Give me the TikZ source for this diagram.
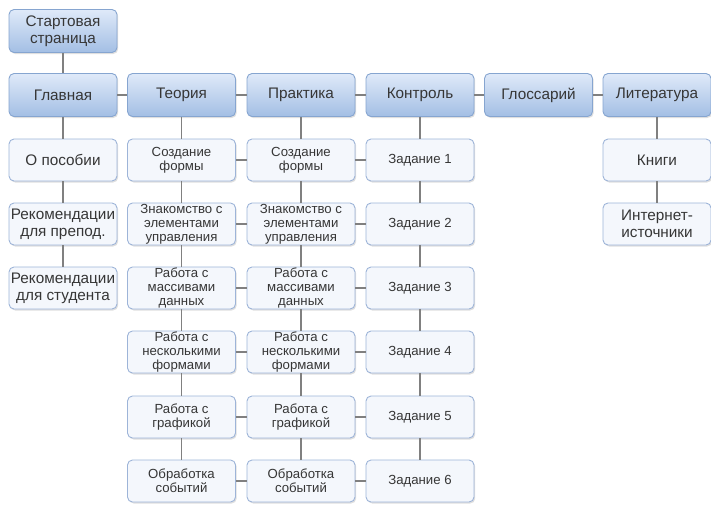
\documentclass[tikz,border=0pt]{standalone}
\usepackage{fontspec}
\setmainfont{Liberation Sans}
\usetikzlibrary{shadows}
\definecolor{txt}{HTML}{363636}
\definecolor{mtop}{HTML}{DFEAF9}
\definecolor{mbot}{HTML}{A3BEE4}
\definecolor{mdraw}{HTML}{86A5D0}
\definecolor{sfill}{HTML}{F4F7FC}
\definecolor{sdraw}{HTML}{9DB4D8}
\definecolor{lnk}{HTML}{808080}
\tikzset{
  basebox/.style={rounded corners=5pt, minimum width=108pt, inner sep=0pt, align=center,
    text=txt, line width=0.9pt,
    drop shadow={opacity=0.25, shadow xshift=1.2pt, shadow yshift=-1.5pt}},
  mainbox/.style={basebox, minimum height=43pt, top color=mtop, bottom color=mbot, draw=mdraw,
    font=\fontsize{15.3}{17}\selectfont},
  subbox/.style={basebox, minimum height=42pt, fill=sfill, draw=sdraw,
    font=\fontsize{13.2}{13.8}\selectfont},
  bigsub/.style={subbox, font=\fontsize{15.3}{17}\selectfont},
  lnkline/.style={draw=lnk, line width=1.3pt}
}
\begin{document}
\begin{tikzpicture}[x=1pt,y=-1pt]
\useasboundingbox (0,0) rectangle (711,504);
\def\ca{63}\def\cb{181.5}\def\cc{301}\def\cd{420}\def\ce{538.5}\def\cf{657}
\def\ra{160}\def\rb{224}\def\rc{288}\def\rd{352}\def\re{417}\def\rf{481}
\node[mainbox] (start) at (\ca,31) {Стартовая\\страница};
\node[mainbox] (glav) at (\ca,95) {Главная};
\node[mainbox] (teor) at (\cb,95) {Теория};
\node[mainbox] (prak) at (\cc,95) {Практика};
\node[mainbox] (kont) at (\cd,95) {Контроль};
\node[mainbox] (glos) at (\ce,95) {Глоссарий};
\node[mainbox] (lit) at (\cf,95) {Литература};
% Главная children
\node[bigsub] (g1) at (\ca,\ra) {О пособии};
\node[bigsub] (g2) at (\ca,\rb) {Рекомендации\\для препод.};
\node[bigsub] (g3) at (\ca,\rc) {Рекомендации\\для студента};
% Теория children
\node[subbox] (t1) at (\cb,\ra) {Создание\\формы};
\node[subbox] (t2) at (\cb,\rb) {Знакомство с\\элементами\\управления};
\node[subbox] (t3) at (\cb,\rc) {Работа с\\массивами\\данных};
\node[subbox] (t4) at (\cb,\rd) {Работа с\\несколькими\\формами};
\node[subbox] (t5) at (\cb,\re) {Работа с\\графикой};
\node[subbox] (t6) at (\cb,\rf) {Обработка\\событий};
% Практика children
\node[subbox] (p1) at (\cc,\ra) {Создание\\формы};
\node[subbox] (p2) at (\cc,\rb) {Знакомство с\\элементами\\управления};
\node[subbox] (p3) at (\cc,\rc) {Работа с\\массивами\\данных};
\node[subbox] (p4) at (\cc,\rd) {Работа с\\несколькими\\формами};
\node[subbox] (p5) at (\cc,\re) {Работа с\\графикой};
\node[subbox] (p6) at (\cc,\rf) {Обработка\\событий};
% Контроль children
\node[subbox] (k1) at (\cd,\ra) {Задание 1};
\node[subbox] (k2) at (\cd,\rb) {Задание 2};
\node[subbox] (k3) at (\cd,\rc) {Задание 3};
\node[subbox] (k4) at (\cd,\rd) {Задание 4};
\node[subbox] (k5) at (\cd,\re) {Задание 5};
\node[subbox] (k6) at (\cd,\rf) {Задание 6};
% Литература children
\node[bigsub] (l1) at (\cf,\ra) {Книги};
\node[bigsub] (l2) at (\cf,\rb) {Интернет-\\источники};
% connectors
\path[lnkline] (start) -- (glav);
\path[lnkline] (glav) -- (teor);
\path[lnkline] (teor) -- (prak);
\path[lnkline] (prak) -- (kont);
\path[lnkline] (kont) -- (glos);
\path[lnkline] (glos) -- (lit);
\path[lnkline] (glav) -- (g1);
\path[lnkline] (g1) -- (g2);
\path[lnkline] (g2) -- (g3);
\path[lnkline] (lit) -- (l1);
\path[lnkline] (l1) -- (l2);
\foreach \c in {t,p,k}{
  \path[lnkline] (\c1) -- (\c2);
  \path[lnkline] (\c2) -- (\c3);
  \path[lnkline] (\c3) -- (\c4);
  \path[lnkline] (\c4) -- (\c5);
  \path[lnkline] (\c5) -- (\c6);
}
\path[lnkline] (teor) -- (t1);
\path[lnkline] (prak) -- (p1);
\path[lnkline] (kont) -- (k1);
\foreach \i in {1,...,6}{
  \path[lnkline] (t\i) -- (p\i);
  \path[lnkline] (p\i) -- (k\i);
}
\end{tikzpicture}
\end{document}
